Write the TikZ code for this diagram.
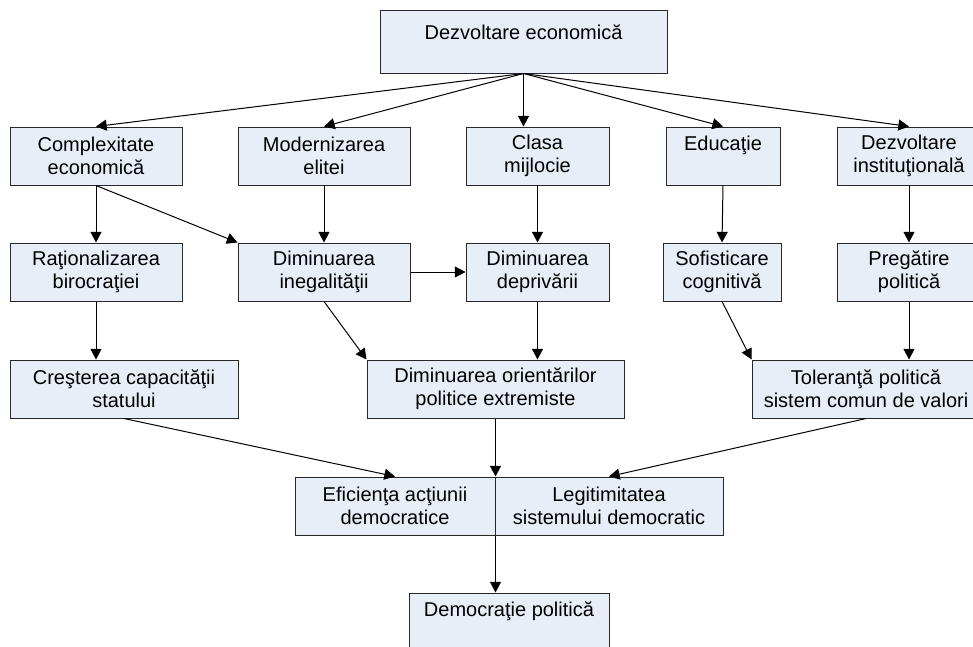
\documentclass[tikz,border=0pt]{standalone}
\usepackage{fontspec}
\setmainfont{Liberation Sans}
\usepackage{tikz}
\usetikzlibrary{arrows.meta}
\usetikzlibrary{positioning}
\definecolor{boxfill}{RGB}{232,238,247}
\definecolor{boxline}{RGB}{40,40,40}

\begin{document}
\begin{tikzpicture}[x=0.75pt,y=0.75pt,yscale=-1,xscale=1,
  box/.style={draw=boxline,fill=boxfill,line width=0.75pt,align=center,
    minimum height=43.5pt,inner sep=2pt,font=\fontsize{15}{17}\selectfont},
  wd/.style={minimum width=0.75pt*#1},
  oneline/.style={text depth=19pt},
  link/.style={draw=black,line width=0.75pt,-{Triangle[length=8pt,width=8.25pt]}}]
%set diagram size 973 x 646
\useasboundingbox (0,0) rectangle (973,646);
\clip (0,0) rectangle (973,646);

%Shape: Rectangle [top]
\node [box,wd=287,minimum height=47.25pt,text depth=14pt] (dezvec) at (523.5,41.5) {Dezvoltare economică};

%Shape: Rectangle [row 1]
\node [box,wd=172] (complex) at (96,156) {Complexitate\\economică};
\node [box,wd=172] (modern) at (324,156) {Modernizarea\\elitei};
\node [box,wd=143] (clasa) at (537.5,156) {Clasa\\mijlocie};
\node [box,wd=114,oneline] (educ) at (723,156) {Educaţie};
\node [box,wd=144] (dezvinst) at (909,156) {Dezvoltare\\instituţională};

%Shape: Rectangle [row 2]
\node [box,wd=172] (rational) at (96,272) {Raţionalizarea\\birocraţiei};
\node [box,wd=172] (dimineg) at (324,272) {Diminuarea\\inegalităţii};
\node [box,wd=143] (dimdepr) at (537.5,272) {Diminuarea\\deprivării};
\node [box,wd=118] (sofist) at (722,272) {Sofisticare\\cognitivă};
\node [box,wd=144] (pregat) at (909,272) {Pregătire\\politică};

%Shape: Rectangle [row 3]
\node [box,wd=228] (crestere) at (124,389) {Creşterea capacităţii\\statului};
\node [box,wd=257] (orient) at (495.5,389) {Diminuarea orientărilor\\politice extremiste};
\node [box,wd=228] (toler) at (866,389) {Toleranţă politică\\sistem comun de valori};

%Shape: Rectangle [row 4]
\node [box,wd=200] (eficienta) at (395,506) {Eficienţa acţiunii\\democratice};
\node [box,wd=228] (legit) at (609,506) {Legitimitatea\\sistemului democratic};

%Shape: Rectangle [bottom]
\node [box,wd=200,oneline] (democr) at (509,622) {Democraţie politică};

%Straight Lines [from top]
\draw [link] (dezvec.south) -- (complex.north);
\draw [link] (dezvec.south) -- (modern.north);
\draw [link] (dezvec.south) -- (dezvec.south |- clasa.north);
\draw [link] (dezvec.south) -- (educ.north);
\draw [link] (dezvec.south) -- (dezvinst.north);

%Straight Lines [row 1 to row 2]
\draw [link] (complex.south) -- (rational.north);
\draw [link] (complex.south) -- (dimineg.north west);
\draw [link] (modern.south) -- (dimineg.north);
\draw [link] (clasa.south) -- (dimdepr.north);
\draw [link] (educ.south) -- (sofist.north);
\draw [link] (dezvinst.south) -- (pregat.north);
\draw [link] (dimineg.east) -- (dimdepr.west);

%Straight Lines [row 2 to row 3]
\draw [link] (rational.south) -- (rational.south |- crestere.north);
\draw [link] (dimineg.south) -- (orient.north west);
\draw [link] (dimdepr.south) -- (dimdepr.south |- orient.north);
\draw [link] (sofist.south) -- (toler.north west);
\draw [link] (pregat.south) -- (pregat.south |- toler.north);

%Straight Lines [row 3 to row 4]
\draw [link] (crestere.south) -- (eficienta.north);
\draw [link] (orient.south) -- (eficienta.north east);
\draw [link] (toler.south) -- (legit.north);

%Straight Lines [to bottom]
\draw [link] (eficienta.south east) -- (eficienta.south east |- democr.north);

\end{tikzpicture}
\end{document}
